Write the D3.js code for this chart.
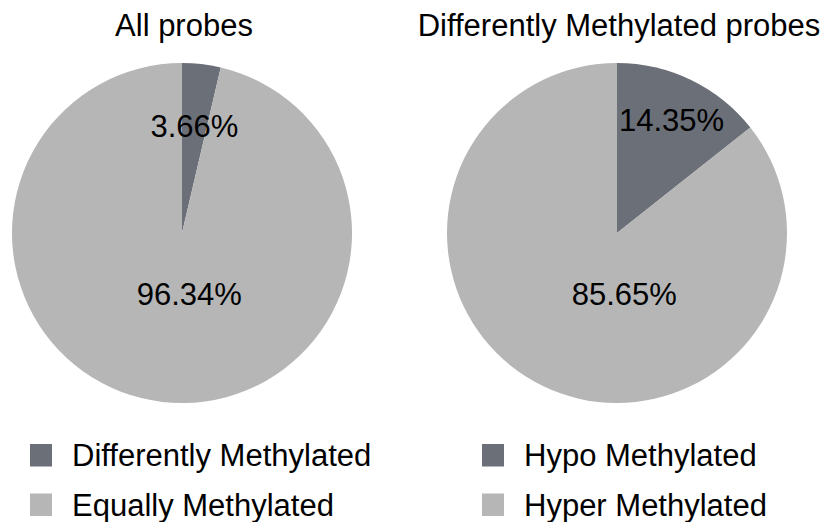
<!DOCTYPE html>
<html>
<head>
<meta charset="utf-8">
<script src="https://cdn.jsdelivr.net/npm/d3@7/dist/d3.min.js"></script>
<style>
  html, body { margin: 0; padding: 0; background: #fff; }
  svg { display: block; }
  text { font-family: "Liberation Sans", Arial, sans-serif; fill: #000; }
</style>
</head>
<body>
<svg id="chart" width="831" height="522"></svg>
<script>
// Chart titles
const titles = ["All probes", "Differently Methylated probes"];

// Slice categories for each pie (legend order)
const allProbesCategories = ["Differently Methylated", "Equally Methylated"];
const dmProbesCategories = ["Hypo Methylated", "Hyper Methylated"];

// Slice values, in percent
const allProbesValues = [3.66, 96.34];
const dmProbesValues = [14.35, 85.65];

const sliceColors = ["#6b6f77", "#b6b6b6"];

const svg = d3.select("#chart");
const radius = 170;
const fontSize = 31;

const pies = [
  { title: titles[0], cats: allProbesCategories, vals: allProbesValues, cx: 182, legendX: 30 },
  { title: titles[1], cats: dmProbesCategories, vals: dmProbesValues, cx: 617, legendX: 482 }
];
const cy = 233;

const pie = d3.pie().sort(null).value(d => d.v).startAngle(0).endAngle(2 * Math.PI);
const arc = d3.arc().innerRadius(0).outerRadius(radius);
const color = d3.scaleOrdinal().domain([0, 1]).range(sliceColors);

pies.forEach(p => {
  const data = p.vals.map((v, i) => ({ v, i, cat: p.cats[i] }));
  const arcs = pie(data);

  // Title
  svg.append("text")
    .attr("x", p.cx + 2)
    .attr("y", 36)
    .attr("text-anchor", "middle")
    .style("font-size", fontSize + "px")
    .text(p.title);

  const g = svg.append("g").attr("transform", `translate(${p.cx},${cy})`);

  g.selectAll("path")
    .data(arcs)
    .join("path")
    .attr("d", arc)
    .attr("fill", d => color(d.data.i));

  // Value labels: minor slices along their mid-angle, major slice below centre
  g.selectAll("text.val")
    .data(arcs)
    .join("text")
    .attr("class", "val")
    .attr("text-anchor", "middle")
    .style("font-size", fontSize + "px")
    .attr("transform", d => {
      const span = d.endAngle - d.startAngle;
      let a, r;
      if (span > Math.PI) {
        a = Math.PI - 0.12;
        r = radius * 0.36;
      } else {
        a = (d.startAngle + d.endAngle) / 2;
        r = radius * (0.6 + span * 0.15);
      }
      const x = r * Math.sin(a);
      const y = -r * Math.cos(a);
      return `translate(${x},${y + 11})`;
    })
    .text(d => d.data.v.toFixed(2) + "%");

  // Legend
  const lg = svg.append("g").attr("transform", `translate(${p.legendX},444)`);
  const rows = lg.selectAll("g")
    .data(data)
    .join("g")
    .attr("transform", (d, i) => `translate(0,${i * 49.5})`);
  rows.append("rect")
    .attr("width", 22).attr("height", 22.5)
    .attr("fill", d => color(d.i));
  rows.append("text")
    .attr("x", 42)
    .attr("y", 22)
    .style("font-size", fontSize + "px")
    .text(d => d.cat);
});
</script>
</body>
</html>
